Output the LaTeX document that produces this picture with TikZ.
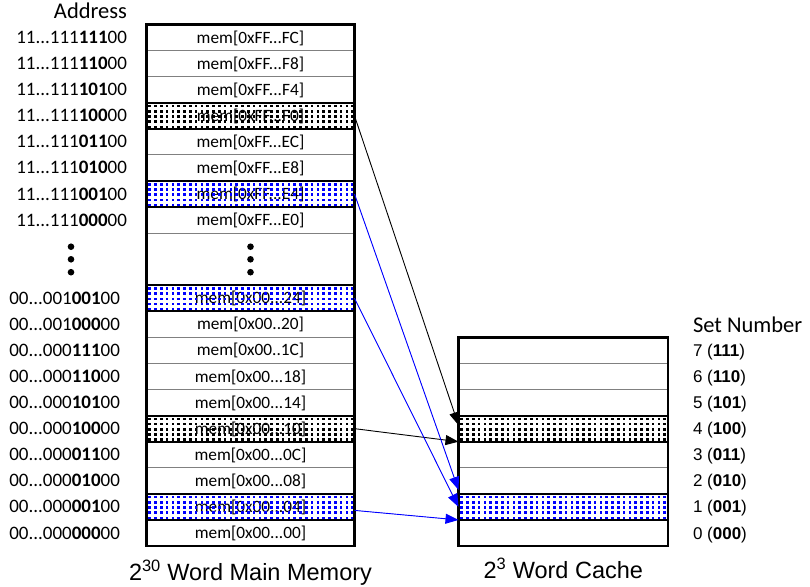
\documentclass[tikz,border=0pt]{standalone}
\usepackage{fontspec}
\setmainfont{Carlito}
\newfontfamily\arialf{Liberation Sans}
\usetikzlibrary{arrows.meta}
\definecolor{sepgray}{gray}{0.5}
% dotted fill of a highlighted row: #1 = left x, #2 = top y, #3 = colour
\newcommand\patrow[3]{%
  \foreach \i in {0,...,35}{\foreach \j in {0,...,4}{%
    \fill[#3] ({#1+1.8+5.8*\i},{#2+2+5.2*\j}) rectangle ++(2.6,2.6);}}}
\tikzset{
  memrow/.style={draw=sepgray, line width=0.8pt, minimum width=208pt, minimum height=26.075pt,
    inner sep=0pt, outer sep=0pt, text height=11.1pt, text depth=0pt, font=\fontsize{17.3}{19}\selectfont},
  cacherow/.style={memrow, minimum width=209.6pt},
  addrtop/.style={anchor=east, inner sep=0pt, outer sep=0pt, text height=12.1pt, text depth=0pt, font=\fontsize{19}{21}\selectfont},
  setlab/.style={anchor=west, inner sep=0pt, outer sep=0pt, text height=12.2pt, text depth=0pt, font=\arialf\fontsize{17}{19}\selectfont},
  outerbox/.style={line width=2.2pt},
  hlbox/.style={line width=2pt},
  arr/.style={line width=0.9pt, -{Triangle[length=13pt,width=10pt]}},
  arrblue/.style={arr, draw=blue, fill=blue},
  vdot/.style={circle, fill=black, inner sep=0pt, minimum size=6.6pt},
  title/.style={inner sep=0pt, outer sep=0pt, text height=14.5pt, text depth=0pt, font=\fontsize{22.5}{25}\selectfont},
  caption/.style={inner sep=0pt, outer sep=0pt, text height=16.8pt, text depth=0pt, font=\arialf\fontsize{23.5}{26}\selectfont}
}
\begin{document}
\begin{tikzpicture}[x=1pt,y=-1pt]
\useasboundingbox (0,0) rectangle (810,586);
\fill[white] (0,0) rectangle (810,586);

% titles
\node[title, anchor=east] (taddr) at (127,11.7) {Address};
\node[title, anchor=west] (tset) at (693,325) {Set Number};

% address labels
\node[addrtop] (a0) at (127,37.54) {11...111\textbf{111}00};
\node[addrtop] (a1) at (127,63.61) {11...111\textbf{110}00};
\node[addrtop] (a2) at (127,89.69) {11...111\textbf{101}00};
\node[addrtop] (a3) at (127,115.76) {11...111\textbf{100}00};
\node[addrtop] (a4) at (127,141.84) {11...111\textbf{011}00};
\node[addrtop] (a5) at (127,167.91) {11...111\textbf{010}00};
\node[addrtop] (a6) at (127,193.99) {11...111\textbf{001}00};
\node[addrtop] (a7) at (127,220.06) {11...111\textbf{000}00};
\node[vdot] (ad1) at (71,246.7) {};
\node[vdot] (ad2) at (71,259.3) {};
\node[vdot] (ad3) at (71,272.2) {};
\node[addrtop] (a10) at (120,298.29) {00...001\textbf{001}00};
\node[addrtop] (a11) at (120,324.36) {00...001\textbf{000}00};
\node[addrtop] (a12) at (120,350.44) {00...000\textbf{111}00};
\node[addrtop] (a13) at (120,376.51) {00...000\textbf{110}00};
\node[addrtop] (a14) at (120,402.59) {00...000\textbf{101}00};
\node[addrtop] (a15) at (120,428.66) {00...000\textbf{100}00};
\node[addrtop] (a16) at (120,454.74) {00...000\textbf{011}00};
\node[addrtop] (a17) at (120,480.81) {00...000\textbf{010}00};
\node[addrtop] (a18) at (120,506.89) {00...000\textbf{001}00};
\node[addrtop] (a19) at (120,532.96) {00...000\textbf{000}00};

% memory rows
\node[memrow] (m0) at (250.5,37.54) {mem[0xFF...FC]};
\node[memrow] (m1) at (250.5,63.61) {mem[0xFF...F8]};
\node[memrow] (m2) at (250.5,89.69) {mem[0xFF...F4]};
\node[memrow] (m3) at (250.5,115.76) {mem[0xFF...F0]};
\node[memrow] (m4) at (250.5,141.84) {mem[0xFF...EC]};
\node[memrow] (m5) at (250.5,167.91) {mem[0xFF...E8]};
\node[memrow] (m6) at (250.5,193.99) {mem[0xFF...E4]};
\node[memrow] (m7) at (250.5,220.06) {mem[0xFF...E0]};
\node[memrow, minimum height=52.15pt] (mgap) at (250.5,259.18) {};
\node[vdot] (md1) at (250.5,246.7) {};
\node[vdot] (md2) at (250.5,259.3) {};
\node[vdot] (md3) at (250.5,272.2) {};
\node[memrow] (m10) at (250.5,298.29) {mem[0x00...24]};
\node[memrow] (m11) at (250.5,324.36) {mem[0x00..20]};
\node[memrow] (m12) at (250.5,350.44) {mem[0x00..1C]};
\node[memrow] (m13) at (250.5,376.51) {mem[0x00...18]};
\node[memrow] (m14) at (250.5,402.59) {mem[0x00...14]};
\node[memrow] (m15) at (250.5,428.66) {mem[0x00...10]};
\node[memrow] (m16) at (250.5,454.74) {mem[0x00...0C]};
\node[memrow] (m17) at (250.5,480.81) {mem[0x00...08]};
\node[memrow] (m18) at (250.5,506.89) {mem[0x00...04]};
\node[memrow] (m19) at (250.5,532.96) {mem[0x00...00]};

% cache rows
\node[cacherow] (c7) at (563.3,350.44) {};
\node[cacherow] (c6) at (563.3,376.51) {};
\node[cacherow] (c5) at (563.3,402.59) {};
\node[cacherow] (c4) at (563.3,428.66) {};
\node[cacherow] (c3) at (563.3,454.74) {};
\node[cacherow] (c2) at (563.3,480.81) {};
\node[cacherow] (c1) at (563.3,506.89) {};
\node[cacherow] (c0) at (563.3,532.96) {};

% dotted fills (drawn over the text, as in the reference)
\patrow{146.5}{102.725}{black}
\patrow{146.5}{415.625}{black}
\patrow{458.5}{415.625}{black}
\patrow{146.5}{180.95}{blue}
\patrow{146.5}{285.25}{blue}
\patrow{146.5}{493.85}{blue}
\patrow{458.5}{493.85}{blue}

% highlighted row borders
\foreach \n in {m3, m15, c4, m6, m10, m18, c1}{
  \draw[hlbox] (\n.north west) rectangle (\n.south east);
}

% outer borders
\draw[outerbox] (m0.north west) rectangle (m19.south east);
\draw[outerbox] (c7.north west) rectangle (c0.south east);

% set numbers
\node[setlab] (s7) at (693,350.44) {7 (\textbf{111})};
\node[setlab] (s6) at (693,376.51) {6 (\textbf{110})};
\node[setlab] (s5) at (693,402.59) {5 (\textbf{101})};
\node[setlab] (s4) at (693,428.66) {4 (\textbf{100})};
\node[setlab] (s3) at (693,454.74) {3 (\textbf{011})};
\node[setlab] (s2) at (693,480.81) {2 (\textbf{010})};
\node[setlab] (s1) at (693,506.89) {1 (\textbf{001})};
\node[setlab] (s0) at (693,532.96) {0 (\textbf{000})};

% captions
\node[caption] (capm) at (250.5,572) {2\textsuperscript{30} Word Main Memory};
\node[caption] (capc) at (563.3,570) {2\textsuperscript{3} Word Cache};

% arrows
\draw[arr] (m3.east) -- ([yshift=3.5pt]c4.west);
\draw[arr] (m15.east) -- (c4.south west);
\draw[arrblue] (m6.east) -- ([yshift=4pt]c1.north west);
\draw[arrblue] (m10.east) -- (c1.west);
\draw[arrblue] ([yshift=-3.5pt]m18.east) -- (c1.south west);
\end{tikzpicture}
\end{document}
